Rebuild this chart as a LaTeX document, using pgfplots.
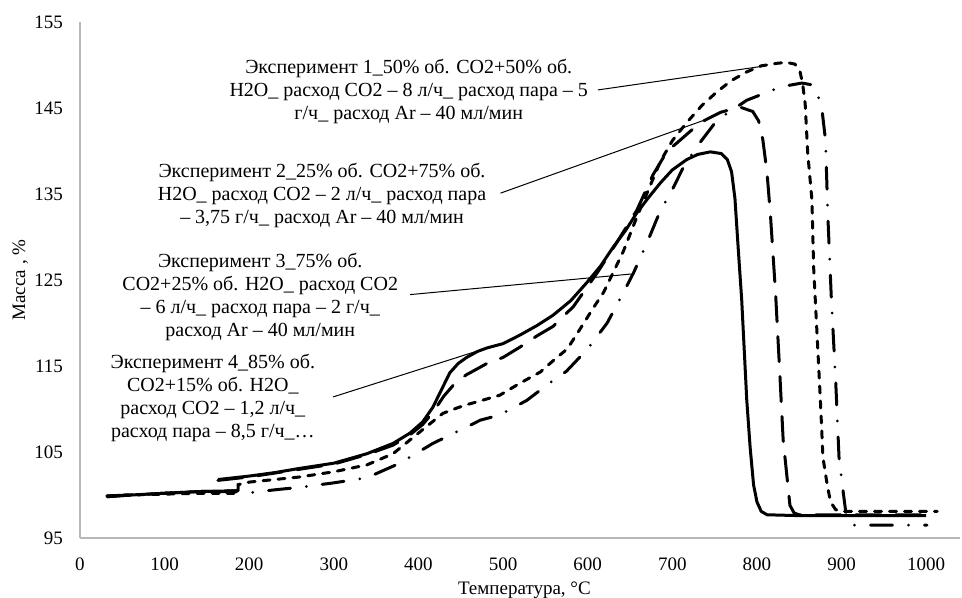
\documentclass[border=0pt]{standalone}
\usepackage{pgfplots}
\pgfplotsset{compat=1.18}
\usepackage{fontspec}
\setmainfont{Liberation Serif}

\begin{document}
\begin{tikzpicture}
\begin{axis}[
    name=ax,
    at={(0,0)}, anchor=south west,
    scale only axis,
    width=440pt, height=258pt,
    xmin=0, xmax=1040,
    ymin=95, ymax=155,
    xtick={0,100,...,1000},
    ytick={95,105,...,155},
    axis x line=bottom, axis y line=left,
    axis line style={-, draw=black!28, line width=0.6pt},
    major tick length=0pt,
    /pgf/number format/assume math mode=true,
    /pgf/number format/1000 sep={},
    tick label style={font=\fontsize{9.5}{11}\selectfont},
    xticklabel style={yshift=-6.5pt},
    yticklabel style={xshift=-5pt},
    xlabel={Температура, °C},
    ylabel={Масса , \%},
    label style={font=\fontsize{9.5}{11}\selectfont},
    xlabel style={at={(axis description cs:0.505,-0.1008)}, anchor=center},
    ylabel style={at={(axis description cs:-0.068,0.5)}, anchor=center},
    unbounded coords=jump,
    clip=false,
]

% Эксперимент 4 (сплошная)
\addplot[black, line width=1.5pt, line join=round] coordinates {
(32,99.8)(60,100.0)(100,100.2)(140,100.4)(187,100.5)(187,nan)
(163,101.8)(200,102.2)(230,102.6)(260,103.1)(300,103.7)(339,104.8)(370,106.0)(390,107.2)
(405,108.5)(417,110.2)(427,112.2)(437,114.2)(447,115.3)(457,116.0)(470,116.7)(481,117.1)
(500,117.6)(520,118.6)(540,119.7)(559,120.9)(580,122.6)(599,124.7)(615,126.6)(630,128.8)
(645,130.8)(658,132.8)(672,134.6)(686,136.3)(700,137.8)(717,139.0)(730,139.6)(745,139.9)
(758,139.7)(765,139.0)(770,137.6)(774,134.5)(778,128.5)(782,122.7)(788,111.0)(792,105.5)
(796,101.2)(800,99.2)(805,98.1)(812,97.7)(850,97.6)(1000,97.6)
};

% Эксперимент 2 (длинный штрих)
\addplot[black, line width=1.5pt, line cap=round, dash pattern=on 12.5pt off 7.5pt] coordinates {
(32,99.9)(60,100.0)(100,100.2)(140,100.4)(187,100.5)(187,nan)
(163,101.7)(200,102.1)(260,103.0)(300,103.6)(339,104.7)(370,105.8)(390,107.0)(405,108.2)
(417,109.6)(430,111.5)(445,113.2)(457,114.0)(470,114.7)(481,115.3)(500,116.0)(520,117.2)
(540,118.5)(559,119.6)(583,121.9)(611,125.8)(634,129.3)(658,133.1)(677,137.2)(694,140.0)
(705,140.9)(733,143.3)(757,144.5)(780,145.1)(795,144.6)(802,143.5)(807,141.3)(812,137.4)
(816,132.5)(822,123.5)(827,114.2)(831,106.4)(835,102.6)(839,98.8)(844,97.9)(850,97.7)(1000,97.7)
};

% Эксперимент 1 (короткий штрих)
\addplot[black, line width=1.5pt, line cap=round, dash pattern=on 3.5pt off 4pt] coordinates {
(32,99.9)(60,100.0)(100,100.1)(140,100.2)(187,100.2)
(187,101.2)(200,101.5)(230,101.8)(260,102.1)(300,102.7)(339,103.5)(370,104.8)(390,106.4)
(410,108.0)(429,109.5)(445,110.1)(457,110.5)(475,111.0)(496,111.6)(520,113.0)(544,114.3)
(559,115.6)(576,117.0)(591,119.3)(605,121.5)(619,123.6)(642,128.3)(658,132.3)(674,136.0)
(686,138.8)(700,141.2)(717,143.3)(735,145.3)(753,146.9)(770,148.2)(788,149.2)(805,149.9)
(824,150.2)(835,150.3)(845,150.1)(851,149.2)(854,147.8)(857,145.5)(860,139.8)(865,134.3)
(867,126.5)(871,118.8)(875,111.0)(878,104.4)(883,101.2)(887,99.2)(893,98.3)(900,98.1)(1013,98.1)
};

% Эксперимент 3 (штрих-пунктир)
\addplot[black, line width=1.5pt, line cap=round, dash pattern=on 11pt off 8pt on 0pt off 8pt] coordinates {
(32,99.8)(60,100.0)(100,100.2)(140,100.4)(187,100.4)
(195,100.2)(230,100.6)(260,100.9)(299,101.4)(339,102.0)(378,103.7)(417,106.0)(457,107.9)
(473,108.7)(496,109.3)(528,111.0)(552,112.8)(575,114.4)(600,117.0)(623,120.0)(642,123.5)
(654,125.8)(670,129.3)(686,133.1)(698,135.1)(713,138.1)(729,140.5)(753,143.6)(788,145.9)
(819,147.1)(836,147.6)(853,147.9)(865,147.7)(872,146.5)(877,144.7)(881,141.3)(884,132.0)
(888,122.7)(893,113.4)(897,104.4)(902,100.3)(905,98.0)(910,96.9)(914,96.5)(1001,96.5)
};

% подписи
\begin{scope}[every node/.style={align=center, font=\fontsize{10}{11.5}\selectfont}]
\node at (axis cs:388.5,146.9) {Эксперимент 1\_50\% об. CO2+50\% об.\\H2O\_ расход CO2 – 8 л/ч\_ расход пара – 5\\г/ч\_ расход Ar – 40 мл/мин};
\node at (axis cs:286,134.8) {Эксперимент 2\_25\% об. CO2+75\% об.\\H2O\_ расход CO2 – 2 л/ч\_ расход пара\\– 3,75 г/ч\_ расход Ar – 40 мл/мин};
\node at (axis cs:213,123.0) {Эксперимент 3\_75\% об.\\CO2+25\% об. H2O\_ расход CO2\\– 6 л/ч\_ расход пара – 2 г/ч\_\\расход Ar – 40 мл/мин};
\node at (axis cs:157,111.3) {Эксперимент 4\_85\% об.\\CO2+15\% об. H2O\_\\расход CO2 – 1,2 л/ч\_\\расход пара – 8,5 г/ч\_…};
\end{scope}
\draw[black, line width=0.5pt] (axis cs:612,147.1) -- (axis cs:803,149.8);
\draw[black, line width=0.5pt] (axis cs:497,135.1) -- (axis cs:741,143.7);
\draw[black, line width=0.5pt] (axis cs:390,123.3) -- (axis cs:652,125.7);
\draw[black, line width=0.5pt] (axis cs:299,111.4) -- (axis cs:481,117.1);

\end{axis}
\pgfresetboundingbox
\path ([shift={(-40pt,-30pt)}]ax.south west) rectangle ([shift={(1pt,11pt)}]ax.north east);
\end{tikzpicture}
\end{document}
